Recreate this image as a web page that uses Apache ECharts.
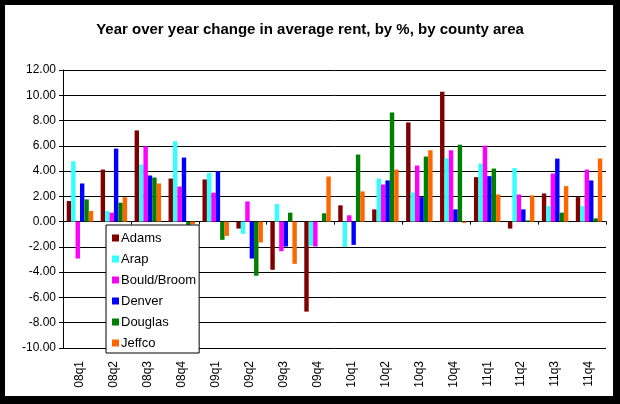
<!DOCTYPE html>
<html>
<head>
<meta charset="utf-8">
<script src="https://cdn.jsdelivr.net/npm/echarts@6/dist/echarts.min.js"></script>
<style>
html,body{margin:0;padding:0;background:#fff;}
#c{width:620px;height:404px;}
</style>
</head>
<body>
<div id="c"></div>
<script>
var categories = ['08q1','08q2','08q3','08q4','09q1','09q2','09q3','09q4','10q1','10q2','10q3','10q4','11q1','11q2','11q3','11q4'];
var adams   = [1.63, 4.12, 7.22, 3.41, 3.34, -0.55, -3.81, -7.12, 1.29, 0.97, 7.85, 10.27, 3.52, -0.55, 2.23, 1.94];
var arap    = [4.78, 0.84, 4.52, 6.36, 3.86, -0.97, 1.39, -1.92, -2.00, 3.41, 2.31, 5.02, 4.60, 4.23, 1.23, 1.23];
var bould   = [-2.92, 0.71, 5.96, 2.78, 2.29, 1.60, -2.34, -1.97, 0.50, 2.94, 4.44, 5.65, 6.02, 2.15, 3.81, 4.12];
var denver  = [3.02, 5.78, 3.65, 5.07, 3.99, -2.92, -1.97, 0.00, -1.84, 3.26, 1.94, 0.97, 3.60, 0.97, 4.99, 3.26];
var douglas = [1.76, 1.50, 3.49, -0.25, -1.44, -4.28, 0.71, 0.66, 5.31, 8.64, 5.15, 6.09, 4.20, 0.10, 0.71, 0.26];
var jeffco  = [0.84, 1.94, 3.02, -0.20, -1.13, -1.65, -3.34, 3.57, 2.39, 4.12, 5.65, -0.10, 2.15, 2.08, 2.81, 4.99];
var seriesNames = ['Adams','Arap','Bould/Broom','Denver','Douglas','Jeffco'];
var seriesData = [adams, arap, bould, denver, douglas, jeffco];
var colors = ['#800000','#33FFFF','#FF00FF','#0000FF','#008000','#FF6600'];

var FONT = 'Arial, "Liberation Sans", sans-serif';
var chart = echarts.init(document.getElementById('c'));
var series = seriesNames.map(function(n, i){
  return {
    name: n, type: 'bar', data: seriesData[i], xAxisIndex: 0,
    barGap: '0%', barCategoryGap: '22%',
    itemStyle: {color: colors[i]}
  };
});
chart.setOption({
  animation: false,
  backgroundColor: '#fff',
  color: colors,
  title: {
    text: 'Year over year change in average rent, by %, by county area',
    left: 'center', top: 17,
    textStyle: {fontFamily: FONT, fontWeight: 'bold', fontSize: 15, color: '#000'}
  },
  grid: {left: 63, right: 14, top: 70, bottom: 56, containLabel: false},
  legend: {
    orient: 'vertical', left: 106, top: 225,
    backgroundColor: '#fff', borderColor: '#000', borderWidth: 1, borderRadius: 0,
    padding: [6, 3, 3, 6],
    itemWidth: 7, itemHeight: 7, itemGap: 7,
    icon: 'rect',
    textStyle: {fontFamily: FONT, fontSize: 13, color: '#000', lineHeight: 14, padding: [0,0,0,-3]},
    data: seriesNames
  },
  xAxis: [
    {
      type: 'category', data: categories, position: 'bottom',
      axisLine: {show: false, onZero: false},
      axisTick: {show: false},
      axisLabel: {rotate: 90, margin: 13, fontFamily: FONT, fontSize: 12, color: '#000'},
      splitLine: {show: false}
    },
    {
      type: 'category', data: categories, position: 'bottom', gridIndex: 0,
      axisLine: {show: true, onZero: true, lineStyle: {color: '#000', width: 1}},
      axisTick: {show: true, length: 3, inside: false, lineStyle: {color: '#000'}},
      axisLabel: {show: false},
      splitLine: {show: false}
    }
  ],
  yAxis: {
    type: 'value', min: -10, max: 12, interval: 2,
    axisLine: {show: true, lineStyle: {color: '#000'}},
    axisTick: {show: true, length: 4, lineStyle: {color: '#000'}},
    axisLabel: {formatter: function(v){return v.toFixed(2);}, fontFamily: FONT, fontSize: 12, color: '#000', margin: 7},
    splitLine: {show: true, lineStyle: {color: '#000', width: 1}}
  },
  series: series,
  graphic: [
    {type: 'rect', shape: {x: 0, y: 0, width: 620, height: 5}, style: {fill: '#000'}, z: 100},
    {type: 'rect', shape: {x: 0, y: 0, width: 5, height: 404}, style: {fill: '#000'}, z: 100},
    {type: 'rect', shape: {x: 613, y: 0, width: 7, height: 404}, style: {fill: '#000'}, z: 100},
    {type: 'rect', shape: {x: 0, y: 396, width: 620, height: 8}, style: {fill: '#000'}, z: 100}
  ]
});
</script>
</body>
</html>
